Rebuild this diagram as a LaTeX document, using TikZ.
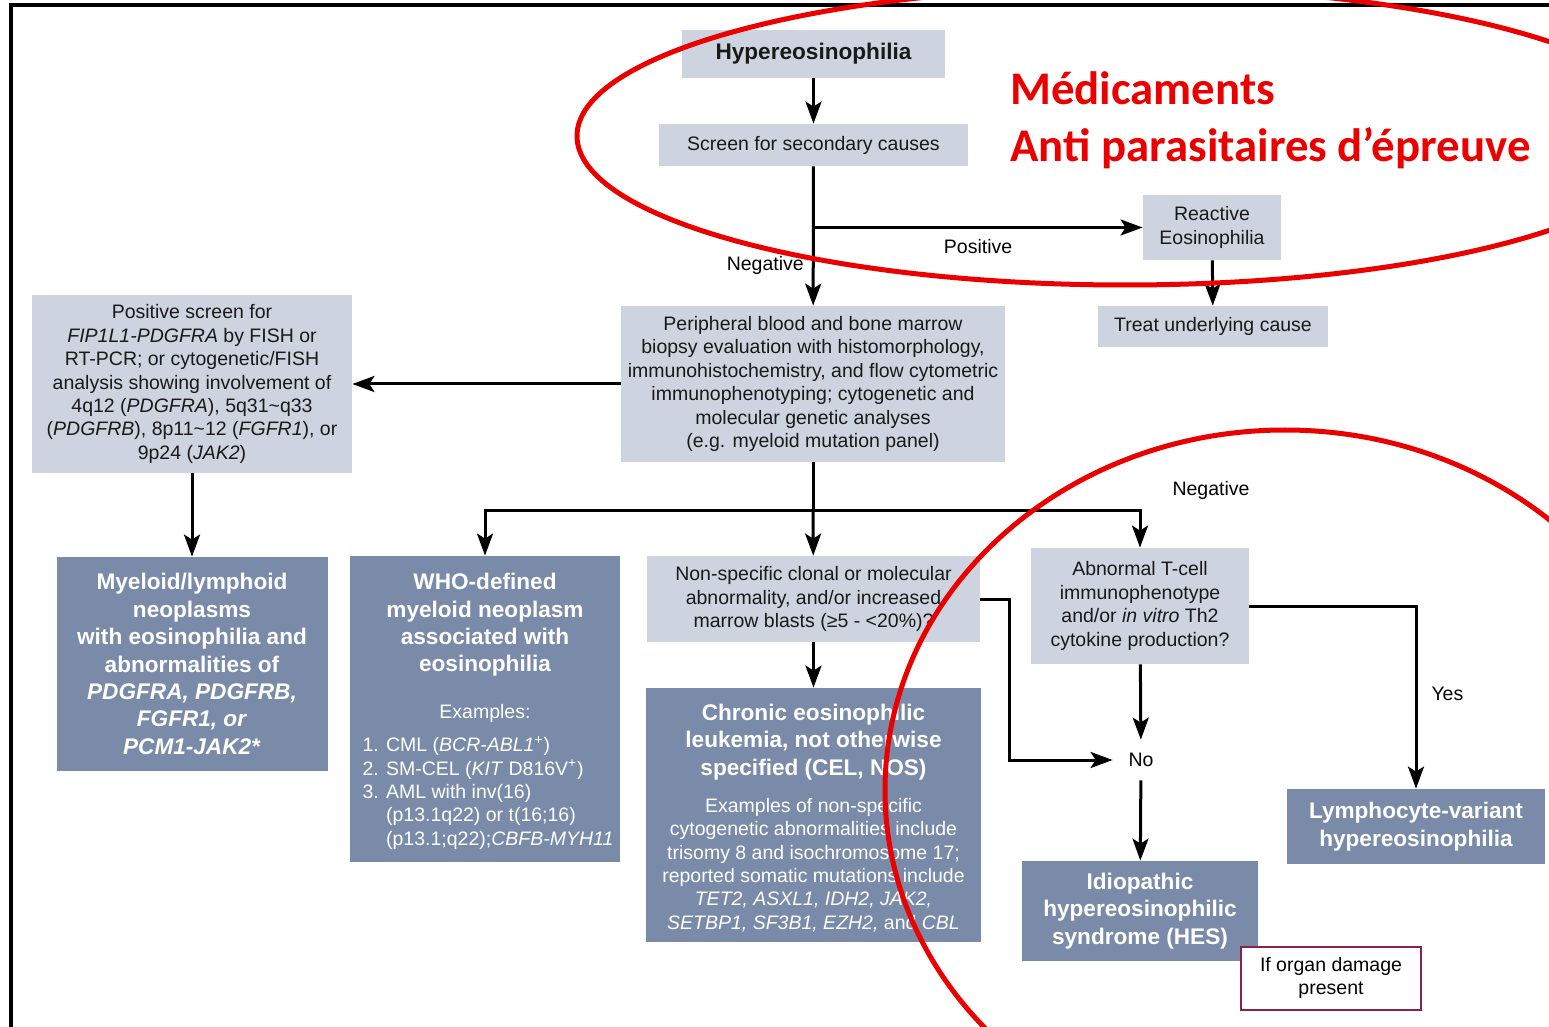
\documentclass[tikz,border=0pt]{standalone}
\usepackage{fontspec}
\setmainfont{Liberation Sans}
\newfontfamily\notefont{Carlito}
\usetikzlibrary{arrows.meta,positioning}
\definecolor{boxlight}{RGB}{205,212,224}
\definecolor{boxdark}{RGB}{122,139,170}
\definecolor{notered}{RGB}{235,0,0}
\definecolor{damagered}{RGB}{140,35,70}
\tikzset{
  lbox/.style={fill=boxlight, align=center, inner sep=0pt, text=black!90,
    font=\fontsize{9.75}{11.7}\selectfont},
  dbox/.style={fill=boxdark, text=white, align=center, inner sep=0pt,
    font=\bfseries\fontsize{11.3}{13.7}\selectfont},
  dtext/.style={text=white, align=center, inner sep=0pt,
    font=\bfseries\fontsize{11.3}{13.7}\selectfont},
  ltext/.style={text=white, align=center, inner sep=0pt,
    font=\fontsize{9.75}{11.7}\selectfont},
  lbl/.style={align=center, inner sep=1pt, font=\fontsize{9.75}{11.7}\selectfont},
  arr/.style={line width=1.5pt, -{Stealth[length=11pt,width=8pt,inset=2.5pt]}},
  link/.style={line width=1.5pt},
  redring/.style={draw=notered, line width=2.5pt},
  redtxt/.style={text=notered, inner sep=0pt, font=\notefont\bfseries\fontsize{23.4}{28}\selectfont},
}
\begin{document}
\begin{tikzpicture}[x=0.5pt,y=-0.5pt]
\useasboundingbox (0,0) rectangle (1549,1027);
\draw[line width=1.6pt] (11,1040) -- (11,5) -- (1560,5);

\node[lbox, minimum width=131.5pt, minimum height=24pt,
  font=\bfseries\fontsize{11.3}{13.7}\selectfont] (hyper) at (813.5,54) {Hypereosinophilia};
\node[lbox, minimum width=154.5pt, minimum height=21pt] (screen) at (813.5,145) {Screen for secondary causes};
\node[lbox, minimum width=69pt, minimum height=32.5pt] (reactive) at (1212,227.5) {Reactive\\Eosinophilia};
\node[lbox, minimum width=115pt, minimum height=20.5pt] (treat) at (1213,326.5) {Treat underlying cause};
\node[lbox, minimum width=192pt, minimum height=78pt] (periph) at (813,384) {Peripheral blood and bone marrow\\biopsy evaluation with histomorphology,\\immunohistochemistry, and flow cytometric\\immunophenotyping; cytogenetic and\\molecular genetic analyses\\(e.g. myeloid mutation panel)};
\node[lbox, minimum width=160pt, minimum height=89pt] (posscreen) at (192,384) {Positive screen for\\\textit{FIP1L1-PDGFRA} by FISH or\\RT-PCR; or cytogenetic/FISH\\analysis showing involvement of\\4q12 (\textit{PDGFRA}), 5q31\textasciitilde q33\\(\textit{PDGFRB}), 8p11\textasciitilde 12 (\textit{FGFR1}), or\\9p24 (\textit{JAK2})};

\node[dbox, minimum width=135.5pt, minimum height=107pt] (mylym) at (192,664) {Myeloid/lymphoid\\neoplasms\\with eosinophilia and\\abnormalities of\\\textit{PDGFRA, PDGFRB,}\\\textit{FGFR1, or}\\\textit{PCM1-JAK2*}};

\node[dbox, minimum width=135pt, minimum height=153pt] (who) at (485,709) {};
\node[dtext] (whohead) at (485,625) {WHO-defined\\myeloid neoplasm\\associated with\\eosinophilia};
\node[ltext] (whoex) at (485,713) {Examples:};
\node[ltext, align=left] (wholist) at (488,793) {1. CML (\textit{BCR-ABL1}\textsuperscript{+})\\2. SM-CEL (\textit{KIT} D816V\textsuperscript{+})\\3. AML with inv(16)\\\phantom{3. }(p13.1q22) or t(16;16)\\\phantom{3. }(p13.1;q22);\textit{CBFB-MYH11}};

\node[lbox, minimum width=166.5pt, minimum height=43pt] (nonspec) at (813.5,599) {Non-specific clonal or molecular\\abnormality, and/or increased\\marrow blasts (≥5 - <20\%)?};

\node[dbox, minimum width=167.5pt, minimum height=127pt] (cel) at (813.5,815) {};
\node[dtext] (celhead) at (813.5,742) {Chronic eosinophilic\\leukemia, not otherwise\\specified (CEL, NOS)};
\node[ltext] (celex) at (813.5,865) {Examples of non-specific\\cytogenetic abnormalities include\\trisomy 8 and isochromosome 17;\\reported somatic mutations include\\\textit{TET2, ASXL1, IDH2, JAK2,}\\\textit{SETBP1, SF3B1, EZH2,} and \textit{CBL}};

\node[lbox, minimum width=109pt, minimum height=58pt] (tcell) at (1140,606) {Abnormal T-cell\\immunophenotype\\and/or \textit{in vitro} Th2\\cytokine production?};
\node[lbl, minimum width=28pt, minimum height=20pt] (no) at (1141,760) {No};
\node[dbox, minimum width=118pt, minimum height=50pt] (hes) at (1140,911) {Idiopathic\\hypereosinophilic\\syndrome (HES)};
\node[dbox, minimum width=129pt, minimum height=37.5pt] (lymvar) at (1416,826.5) {Lymphocyte-variant\\hypereosinophilia};
\node[lbl, draw=damagered, line width=1pt, fill=white, minimum width=90pt,
  minimum height=31.5pt] (organ) at (1331,978) {If organ damage\\present};

\draw[arr] (hyper) -- (screen);
\draw[arr] (screen) -- (periph) node[lbl, pos=0.71, left=3pt] (negone) {Negative};
\draw[arr] (screen.south |- reactive.west) -- (reactive.west) node[lbl, midway, below=4pt] (posone) {Positive};
\draw[arr] (reactive) -- (treat);
\draw[arr] (periph) -- (posscreen);
\draw[arr] (posscreen) -- (mylym);
\coordinate (fork) at (813,510);
\draw[link] (periph) -- (fork);
\draw[arr] (fork) -- (nonspec);
\draw[arr] (fork) -| (who);
\draw[arr] (fork) -| (tcell);
\node[lbl] (negtwo) at (1211,490) {Negative};
\draw[arr] (nonspec) -- (cel);
\draw[arr] (nonspec.east) -- ++(29,0) |- (no);
\draw[arr] (tcell) -- (no);
\draw[arr] (no) -- (hes);
\draw[arr] (tcell.east) -| (lymvar) node[lbl, pos=0.74, right=6pt] (yes) {Yes};

\node[redtxt, anchor=base west] (drugs) at (1010,105) {Médicaments};
\node[redtxt, anchor=base west] (parasites) at (1010,162) {Anti parasitaires d’épreuve};
\draw[redring] (1125,136) ellipse [x radius=274pt, y radius=74.5pt];
\draw[redring] (1285,790) ellipse [x radius=200pt, y radius=180pt];
\end{tikzpicture}
\end{document}
